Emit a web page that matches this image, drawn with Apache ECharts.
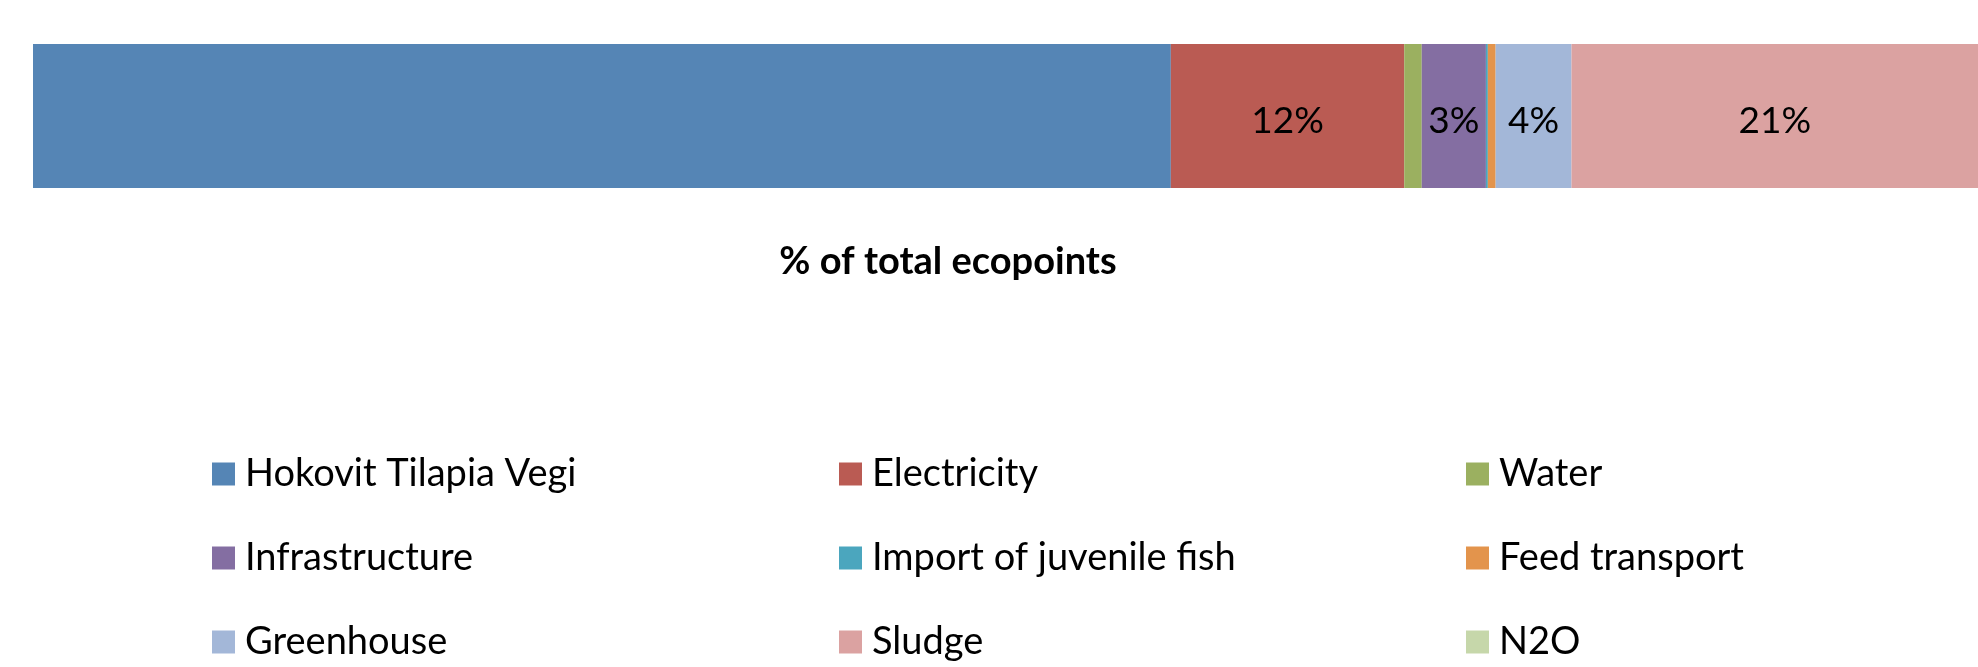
<!DOCTYPE html>
<html>
<head>
<meta charset="utf-8">
<script src="https://cdn.jsdelivr.net/npm/echarts@6/dist/echarts.min.js"></script>
<style>
html,body{margin:0;padding:0;background:#fff;}
#chart{width:1978px;height:667px;}
</style>
</head>
<body>
<div id="chart"></div>
<script>
const categories = ['% of total ecopoints'];
const seriesNames = ['Hokovit Tilapia Vegi','Electricity','Water','Infrastructure','Import of juvenile fish','Feed transport','Greenhouse','Sludge','N2O'];
const seriesValues = [58.5, 12.0, 0.9, 3.3, 0.1, 0.4, 3.9, 20.9, 0.0];
const showLabel = [false, true, false, true, false, false, true, true, false];
const colors = ['#5585B5','#BA5B53','#9BB060','#846EA2','#4BA6BE','#E3944C','#A3B7D8','#DBA2A1','#C6D7AA'];
const legendRows = [
  ['Hokovit Tilapia Vegi','Electricity','Water'],
  ['Infrastructure','Import of juvenile fish','Feed transport'],
  ['Greenhouse','Sludge','N2O']
];

const FONT = 'Lato, "Open Sans", sans-serif';
const chart = echarts.init(document.getElementById('chart'), null, {renderer:'canvas'});

const series = seriesNames.map((name, i) => ({
  name: name,
  type: 'bar',
  stack: 'total',
  barWidth: 144,
  data: [seriesValues[i]],
  itemStyle: {color: colors[i]},
  label: {
    show: showLabel[i],
    position: 'inside',
    offset: [0, 5],
    formatter: p => Math.round(p.value) + '%',
    color: '#000',
    fontFamily: FONT,
    fontSize: 37
  },
  emphasis: {disabled: true}
}));

const rowTops = [454, 538, 622];
const legends = legendRows.map((row, r) => ({
  data: row,
  left: 212,
  top: rowTops[r],
  width: 1760,
  padding: 0,
  orient: 'horizontal',
  itemWidth: 23,
  itemHeight: 23,
  itemGap: 194,
  icon: 'rect',
  selectedMode: false,
  textStyle: {
    fontFamily: FONT,
    fontSize: 38,
    color: '#000',
    width: 400,
    lineHeight: 40,
    padding: [0,0,0,5]
  }
}));

chart.setOption({
  animation: false,
  color: colors,
  title: {
    text: categories[0],
    left: 943,
    top: 238,
    textAlign: 'center',
    textStyle: {fontFamily: FONT, fontWeight: 'bold', fontSize: 38, color: '#000'}
  },
  legend: legends,
  grid: {left: 33, right: 0, top: 44, height: 144, containLabel: false},
  xAxis: {type: 'value', min: 0, max: 100, show: false},
  yAxis: {type: 'category', data: categories, show: false},
  series: series
});
</script>
</body>
</html>
